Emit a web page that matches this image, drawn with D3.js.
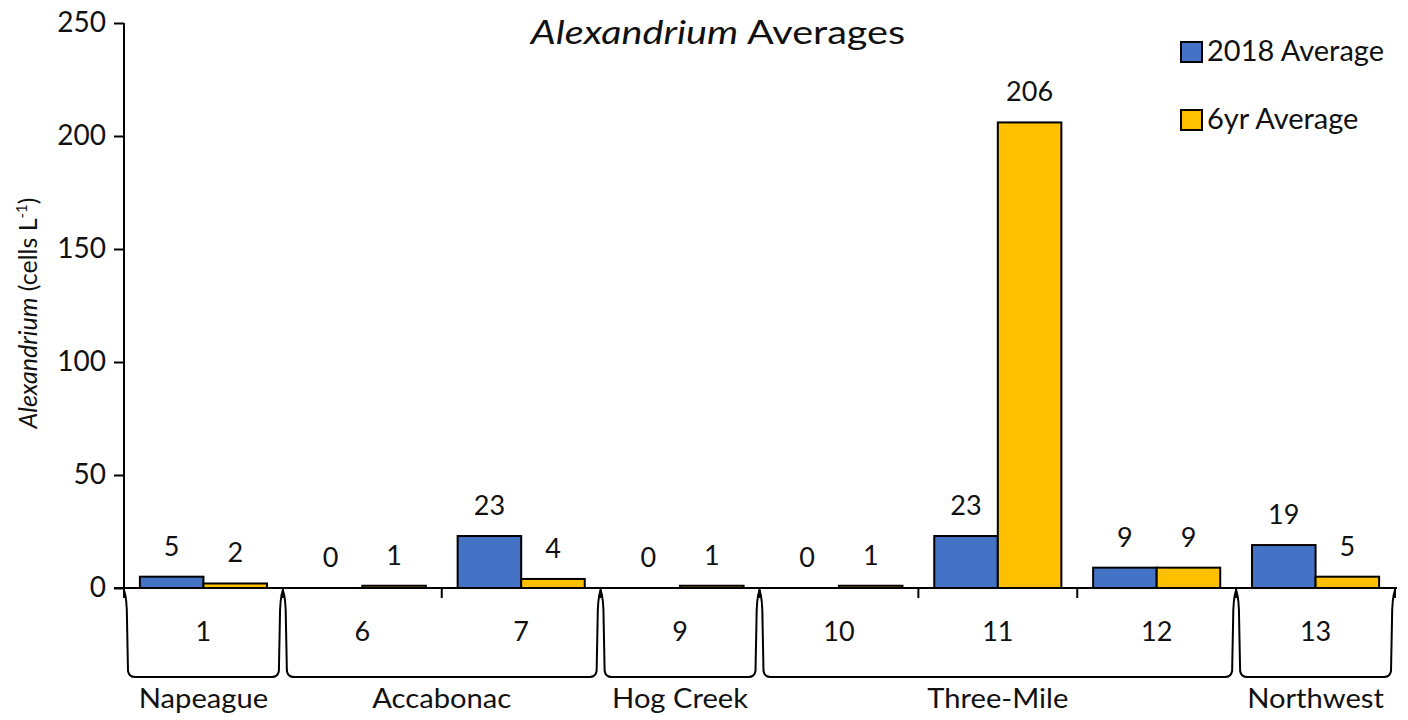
<!DOCTYPE html>
<html>
<head>
<meta charset="utf-8">
<script src="https://cdn.jsdelivr.net/npm/d3@7"></script>
<style>
  html, body { margin: 0; padding: 0; background: #fff; }
  svg { display: block; font-family: Lato, "Open Sans", sans-serif; }
</style>
</head>
<body>
<svg id="chart" width="1408" height="720"></svg>
<script>
// Sampling sites and their averages (cells per litre)
const sites = ["1", "6", "7", "9", "10", "11", "12", "13"];
const avg2018 = [5, 0, 23, 0, 0, 23, 9, 19];
const avg6yr = [2, 1, 4, 1, 1, 206, 9, 5];

// Site groupings along the shore
const groupNames = ["Napeague", "Accabonac", "Hog Creek", "Three-Mile", "Northwest"];
const groupSites = [["1"], ["6", "7"], ["9"], ["10", "11", "12"], ["13"]];

const seriesNames = ["2018 Average", "6yr Average"];
const seriesColors = ["#4472C4", "#FFC000"];
const yTicks = [0, 50, 100, 150, 200, 250];

const svg = d3.select("#chart");
const plot = { left: 124, right: 1395, top: 23, bottom: 588 };

const x0 = d3.scaleBand().domain(sites).range([plot.left, plot.right]).padding(0);
const x1 = d3.scaleBand().domain(seriesNames)
  .range([x0.bandwidth() * 0.1, x0.bandwidth() * 0.9]).padding(0);
const y = d3.scaleLinear().domain([0, 250]).range([plot.bottom, plot.top]);

const rows = sites.map((s, i) => ({ site: s, values: [avg2018[i], avg6yr[i]] }));

// Widen a text element horizontally by a factor, keeping its anchor
function widen(sel, factor) {
  sel.each(function () {
    const w = this.getComputedTextLength();
    d3.select(this).attr("textLength", w * factor).attr("lengthAdjust", "spacingAndGlyphs");
  });
}

// Title
const title = svg.append("text")
  .attr("x", 718).attr("y", 44)
  .attr("text-anchor", "middle")
  .attr("font-size", 33).attr("fill", "#111");
title.append("tspan").attr("font-style", "italic").text("Alexandrium");
title.append("tspan").text(" Averages");
widen(title, 1.2);

// Y axis
const yAxis = svg.append("g")
  .attr("transform", `translate(${plot.left},0)`)
  .call(d3.axisLeft(y).tickValues(yTicks).tickSize(10).tickPadding(8));
yAxis.select(".domain").attr("stroke", "#000").attr("stroke-width", 2)
  .attr("d", `M0,${plot.top}V${plot.bottom}`);
yAxis.selectAll(".tick line").attr("stroke", "#000").attr("stroke-width", 2);
yAxis.selectAll(".tick text").attr("font-size", 28).attr("fill", "#111")
  .attr("font-family", "Lato, sans-serif");

// Y axis title
const yTitle = svg.append("text")
  .attr("transform", `translate(37,313) rotate(-90)`)
  .attr("text-anchor", "middle")
  .attr("font-size", 25).attr("fill", "#111");
yTitle.append("tspan").attr("font-style", "italic").text("Alexandrium");
yTitle.append("tspan").text(" (cells L");
yTitle.append("tspan").attr("font-size", 15).attr("dy", -10).text("-1");
yTitle.append("tspan").attr("dy", 10).text(")");

// Bars
const siteG = svg.append("g").selectAll("g").data(rows).join("g")
  .attr("transform", d => `translate(${x0(d.site)},0)`);

siteG.selectAll("rect")
  .data(d => d.values.map((v, k) => ({ v, k })))
  .join("rect")
  .attr("x", d => x1(seriesNames[d.k]))
  .attr("y", d => y(d.v))
  .attr("width", x1.bandwidth())
  .attr("height", d => y(0) - y(d.v))
  .attr("fill", d => seriesColors[d.k])
  .attr("stroke", "#000").attr("stroke-width", 2);

siteG.selectAll("text.val")
  .data(d => d.values.map((v, k) => ({ v, k })))
  .join("text").attr("class", "val")
  .attr("x", d => x1(seriesNames[d.k]) + x1.bandwidth() / 2)
  .attr("y", d => y(d.v) - 21)
  .attr("text-anchor", "middle")
  .attr("font-size", 27).attr("fill", "#111")
  .text(d => d3.format("d")(d.v));

// X axis baseline
svg.append("line")
  .attr("x1", plot.left - 10).attr("x2", plot.right + 2)
  .attr("y1", y(0)).attr("y2", y(0))
  .attr("stroke", "#000").attr("stroke-width", 2);

// Ticks between sites inside a group, and at group edges
const bw = x0.bandwidth();
const boundaries = [];
groupSites.forEach(g => {
  boundaries.push(x0(g[0]));
  for (let j = 1; j < g.length; j++) {
    svg.append("line")
      .attr("x1", x0(g[j])).attr("x2", x0(g[j]))
      .attr("y1", y(0)).attr("y2", y(0) + 10)
      .attr("stroke", "#000").attr("stroke-width", 2);
  }
});
boundaries.push(plot.right);
boundaries.forEach(b => {
  svg.append("line")
    .attr("x1", b).attr("x2", b)
    .attr("y1", y(0)).attr("y2", y(0) + 10)
    .attr("stroke", "#000").attr("stroke-width", 2);
});

// Site labels
svg.append("g").selectAll("text").data(sites).join("text")
  .attr("x", d => x0(d) + bw / 2).attr("y", 641)
  .attr("text-anchor", "middle")
  .attr("font-size", 27).attr("fill", "#111")
  .text(d => d);

// Group brackets and names
const bTop = y(0) + 2, bBot = 677;
groupSites.forEach((g, i) => {
  const a = x0(g[0]);
  const b = x0(g[g.length - 1]) + bw;
  const path = d3.path();
  path.moveTo(a, bTop);
  path.bezierCurveTo(a + 3, bTop + 8, a + 3, bTop + 20, a + 3, bTop + 30);
  path.lineTo(a + 4, bBot - 6);
  path.quadraticCurveTo(a + 5, bBot, a + 11, bBot);
  path.lineTo(b - 11, bBot);
  path.quadraticCurveTo(b - 5, bBot, b - 4, bBot - 6);
  path.lineTo(b - 3, bTop + 30);
  path.bezierCurveTo(b - 3, bTop + 20, b - 3, bTop + 8, b, bTop);
  svg.append("path").attr("d", path.toString())
    .attr("fill", "none").attr("stroke", "#000").attr("stroke-width", 2);
  const label = svg.append("text")
    .attr("x", (a + b) / 2).attr("y", 708)
    .attr("text-anchor", "middle")
    .attr("font-size", 27).attr("fill", "#111")
    .text(groupNames[i]);
  widen(label, 1.08);
});

// Legend
const legend = svg.append("g");
seriesNames.forEach((s, i) => {
  const ly = 42 + i * 68;
  legend.append("rect")
    .attr("x", 1181).attr("y", ly).attr("width", 21).attr("height", 20)
    .attr("fill", seriesColors[i]).attr("stroke", "#000").attr("stroke-width", 2);
  legend.append("text")
    .attr("x", 1207).attr("y", ly + 19)
    .attr("font-size", 29).attr("fill", "#111")
    .text(s);
});
</script>
</body>
</html>
